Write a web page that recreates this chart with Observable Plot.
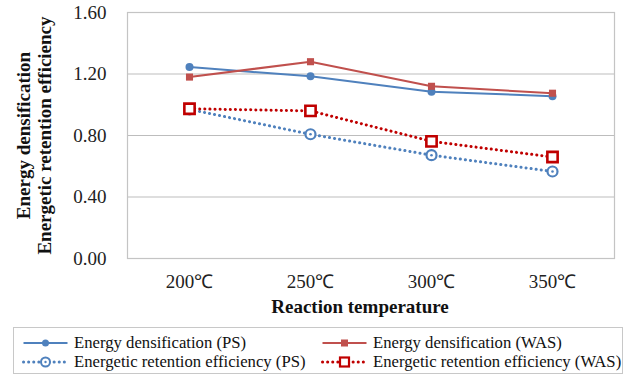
<!DOCTYPE html>
<html><head><meta charset="utf-8">
<script src="https://cdn.jsdelivr.net/npm/d3@7"></script>
<script src="https://cdn.jsdelivr.net/npm/@observablehq/plot@0.6"></script>
<style>
body{margin:0;background:#fff;font-family:'Liberation Serif',serif;}
#legend{position:absolute;left:13px;top:327px;width:610px;height:47px;border:1px solid #c8c8c8;box-sizing:border-box;font-family:'Liberation Serif',serif;font-size:16.7px;color:#111;}
.item{position:absolute;display:flex;align-items:center;white-space:nowrap;height:18px;}
.item svg{margin-right:5px;}
</style></head>
<body>
<div id="chart"></div>
<div id="legend"></div>
<script>
const temperatures = ["200℃", "250℃", "300℃", "350℃"];
const seriesNames = ["Energy densification (PS)", "Energy densification (WAS)", "Energetic retention efficiency (PS)", "Energetic retention efficiency (WAS)"];
const edPS = [1.245, 1.185, 1.085, 1.056];
const edWAS = [1.18, 1.28, 1.12, 1.075];
const erePS = [0.97, 0.808, 0.672, 0.566];
const ereWAS = [0.974, 0.96, 0.762, 0.66];
const yTicks = [0, 0.4, 0.8, 1.2, 1.6];
const yTitle = ["Energy densification", "Energetic retention efficiency"];
const xTitle = "Reaction temperature";

const FONT = "'Liberation Serif', serif";
const BLUE = "#4F81BD", RED = "#C0504D", DRED = "#C00000";
const mk = (vals, s) => vals.map((v, i) => ({t: temperatures[i], v, s}));
const dED_PS = mk(edPS, seriesNames[0]);
const dED_WAS = mk(edWAS, seriesNames[1]);
const dERE_PS = mk(erePS, seriesNames[2]);
const dERE_WAS = mk(ereWAS, seriesNames[3]);

const plot = Plot.plot({
  width: 629, height: 318,
  marginLeft: 127, marginRight: 15, marginTop: 12, marginBottom: 60,
  style: {fontFamily: FONT, fontSize: "19px", color: "#222", overflow: "visible"},
  x: {type: "point", domain: temperatures, padding: 0.5, label: null},
  y: {domain: [0, 1.6], label: null},
  marks: [
    Plot.gridY(yTicks, {stroke: "#bdbdbd", strokeOpacity: 1, strokeWidth: 1}),
    Plot.frame({stroke: "#c4c4c4", strokeWidth: 1.2}),
    Plot.axisX({tickSize: 0, tickPadding: 16, fontSize: 19, fontFamily: FONT, label: null}),
    Plot.axisY({ticks: yTicks, tickFormat: d => d.toFixed(2), tickSize: 0, tickPadding: 21, fontSize: 19, fontFamily: FONT, label: null}),
    Plot.line(dED_PS, {x: "t", y: "v", stroke: BLUE, strokeWidth: 2}),
    Plot.line(dED_WAS, {x: "t", y: "v", stroke: RED, strokeWidth: 2}),
    Plot.line(dERE_PS, {x: "t", y: "v", stroke: BLUE, strokeWidth: 3, strokeDasharray: "0.1,5", strokeLinecap: "round"}),
    Plot.line(dERE_WAS, {x: "t", y: "v", stroke: DRED, strokeWidth: 3, strokeDasharray: "0.1,5", strokeLinecap: "round"}),
    Plot.dot(dED_PS, {x: "t", y: "v", r: 4, fill: BLUE, stroke: "none"}),
    Plot.dot(dED_WAS, {x: "t", y: "v", r: 4, symbol: "square", fill: RED, stroke: "none"}),
    Plot.dot(dERE_PS, {x: "t", y: "v", r: 5, fill: "white", stroke: BLUE, strokeWidth: 2.2}),
    Plot.dot(dERE_PS, {x: "t", y: "v", r: 1.3, fill: BLUE, stroke: "none"}),
    Plot.dot(dERE_WAS, {x: "t", y: "v", r: 5.8, symbol: "square", fill: "white", stroke: DRED, strokeWidth: 2.6}),
    Plot.text([yTitle[0]], {text: d => d, frameAnchor: "left", textAnchor: "middle", lineAnchor: "middle", rotate: -90, dx: -104, fontWeight: "bold", fontSize: 19, fontFamily: FONT, fill: "#111"}),
    Plot.text([yTitle[1]], {text: d => d, frameAnchor: "left", textAnchor: "middle", lineAnchor: "middle", rotate: -90, dx: -83, fontWeight: "bold", fontSize: 19, fontFamily: FONT, fill: "#111"}),
    Plot.text([xTitle], {text: d => d, frameAnchor: "bottom", lineAnchor: "middle", dy: 48, dx: -11, fontWeight: "bold", fontSize: 19, fontFamily: FONT, fill: "#111"})
  ]
});
document.getElementById("chart").appendChild(plot);

// legend
const legend = document.getElementById("legend");
const items = [
  {name: seriesNames[0], color: BLUE, dotted: false, marker: "circle", x: 8, y: 6},
  {name: seriesNames[1], color: RED, dotted: false, marker: "square", x: 307, y: 6},
  {name: seriesNames[2], color: BLUE, dotted: true, marker: "ocircle", x: 8, y: 25},
  {name: seriesNames[3], color: DRED, dotted: true, marker: "osquare", x: 307, y: 25}
];
for (const it of items) {
  const div = document.createElement("div");
  div.className = "item";
  div.style.left = it.x + "px"; div.style.top = it.y + "px";
  const svg = d3.create("svg").attr("width", 47).attr("height", 16);
  svg.append("line").attr("x1", 1.5).attr("x2", 45.5).attr("y1", 8).attr("y2", 8)
    .attr("stroke", it.color).attr("stroke-width", it.dotted ? 3 : 2)
    .attr("stroke-dasharray", it.dotted ? "0.1,5" : null).attr("stroke-linecap", it.dotted ? "round" : "butt");
  if (it.marker === "circle") svg.append("circle").attr("cx", 23.5).attr("cy", 8).attr("r", 3.5).attr("fill", it.color);
  if (it.marker === "square") svg.append("rect").attr("x", 20).attr("y", 4.5).attr("width", 7).attr("height", 7).attr("fill", it.color);
  if (it.marker === "ocircle") { svg.append("circle").attr("cx", 23.5).attr("cy", 8).attr("r", 4.5).attr("fill", "white").attr("stroke", it.color).attr("stroke-width", 2); svg.append("circle").attr("cx", 23.5).attr("cy", 8).attr("r", 1.2).attr("fill", it.color); }
  if (it.marker === "osquare") svg.append("rect").attr("x", 19).attr("y", 3.5).attr("width", 9).attr("height", 9).attr("fill", "white").attr("stroke", it.color).attr("stroke-width", 2.2);
  div.appendChild(svg.node());
  const span = document.createElement("span");
  span.textContent = it.name;
  div.appendChild(span);
  legend.appendChild(div);
}
</script>
</body></html>
